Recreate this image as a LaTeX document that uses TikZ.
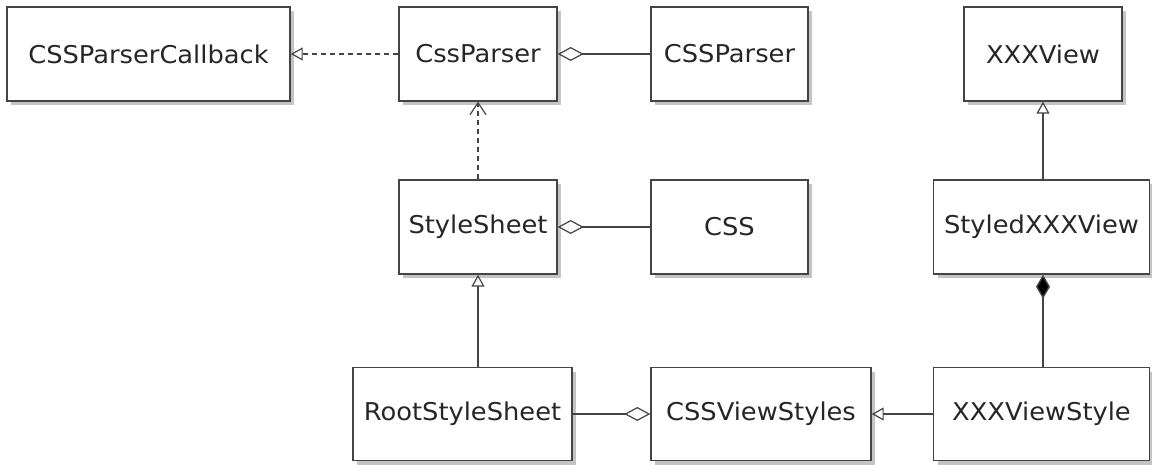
\documentclass[tikz,border=0pt]{standalone}
\usepackage{fontspec}
\setmainfont{DejaVu Sans}[FakeStretch=1.05]
\usetikzlibrary{arrows.meta,shadows}
\definecolor{edgec}{HTML}{444444}
\definecolor{txtc}{HTML}{262626}
\definecolor{shadc}{HTML}{C4C4C4}
\tikzset{
  umlbox/.style={draw=edgec, line width=1.4pt, fill=white, inner sep=0pt,
    text=txtc, font=\fontsize{24.5}{28}\selectfont,
    drop shadow={shadow xshift=4pt, shadow yshift=-4pt, fill=shadc, opacity=1}},
  conn/.style={draw=edgec, line width=1.4pt},
  dashline/.style={dash pattern=on 5pt off 4pt},
  inh/.style={-{Triangle[open, length=12pt, width=13pt, line width=1.2pt]}},
  agg/.style={-{Diamond[open, length=26pt, width=14pt, line width=1.2pt]}},
  aggrev/.style={{Diamond[open, length=26pt, width=14pt, line width=1.2pt]}-},
  comprev/.style={{Diamond[length=24pt, width=14pt, fill=black]}-},
  dep/.style={-{Straight Barb[length=12pt, width=16pt, line width=1.2pt]}},
}
\begin{document}
\begin{tikzpicture}[x=1pt, y=-1pt]
\useasboundingbox[fill=white] (0,0) rectangle (1152,465);
\node[umlbox, minimum width=283pt, minimum height=94pt] (cb)  at (148.5,54) {CSSParserCallback};
\node[umlbox, minimum width=158pt, minimum height=94pt] (cp)  at (478,54) {CssParser};
\node[umlbox, minimum width=157pt, minimum height=94pt] (CP)  at (729.5,54) {CSSParser};
\node[umlbox, minimum width=158pt, minimum height=94pt] (xv)  at (1043,54) {XXXView};
\node[umlbox, minimum width=158pt, minimum height=94pt] (ss)  at (478,227) {StyleSheet};
\node[umlbox, minimum width=157pt, minimum height=94pt] (css) at (729.5,227) {CSS};
\node[umlbox, minimum width=216pt, minimum height=94pt] (sxv) at (1041.5,227) {StyledXXXView};
\node[umlbox, minimum width=219pt, minimum height=93pt] (rss) at (462.5,414) {RootStyleSheet};
\node[umlbox, minimum width=220pt, minimum height=93pt] (cvs) at (761,414) {CSSViewStyles};
\node[umlbox, minimum width=216pt, minimum height=93pt] (xvs) at (1041.5,414) {XXXViewStyle};

\draw[conn, dashline, inh] (cp.west) -- (cb.east);
\draw[conn, aggrev] (cp.east) -- (CP.west);
\draw[conn, dashline, dep] (ss.north) -- (cp.south);
\draw[conn, aggrev] (ss.east) -- (css.west);
\draw[conn, inh] (ss.south |- rss.north) -- (ss.south);
\draw[conn, agg] (rss.east) -- (cvs.west);
\draw[conn, inh] (xvs.west) -- (cvs.east);
\draw[conn, inh] (xv.south |- sxv.north) -- (xv.south);
\draw[conn, comprev] (xv.south |- sxv.south) -- (xv.south |- xvs.north);
\end{tikzpicture}
\end{document}
